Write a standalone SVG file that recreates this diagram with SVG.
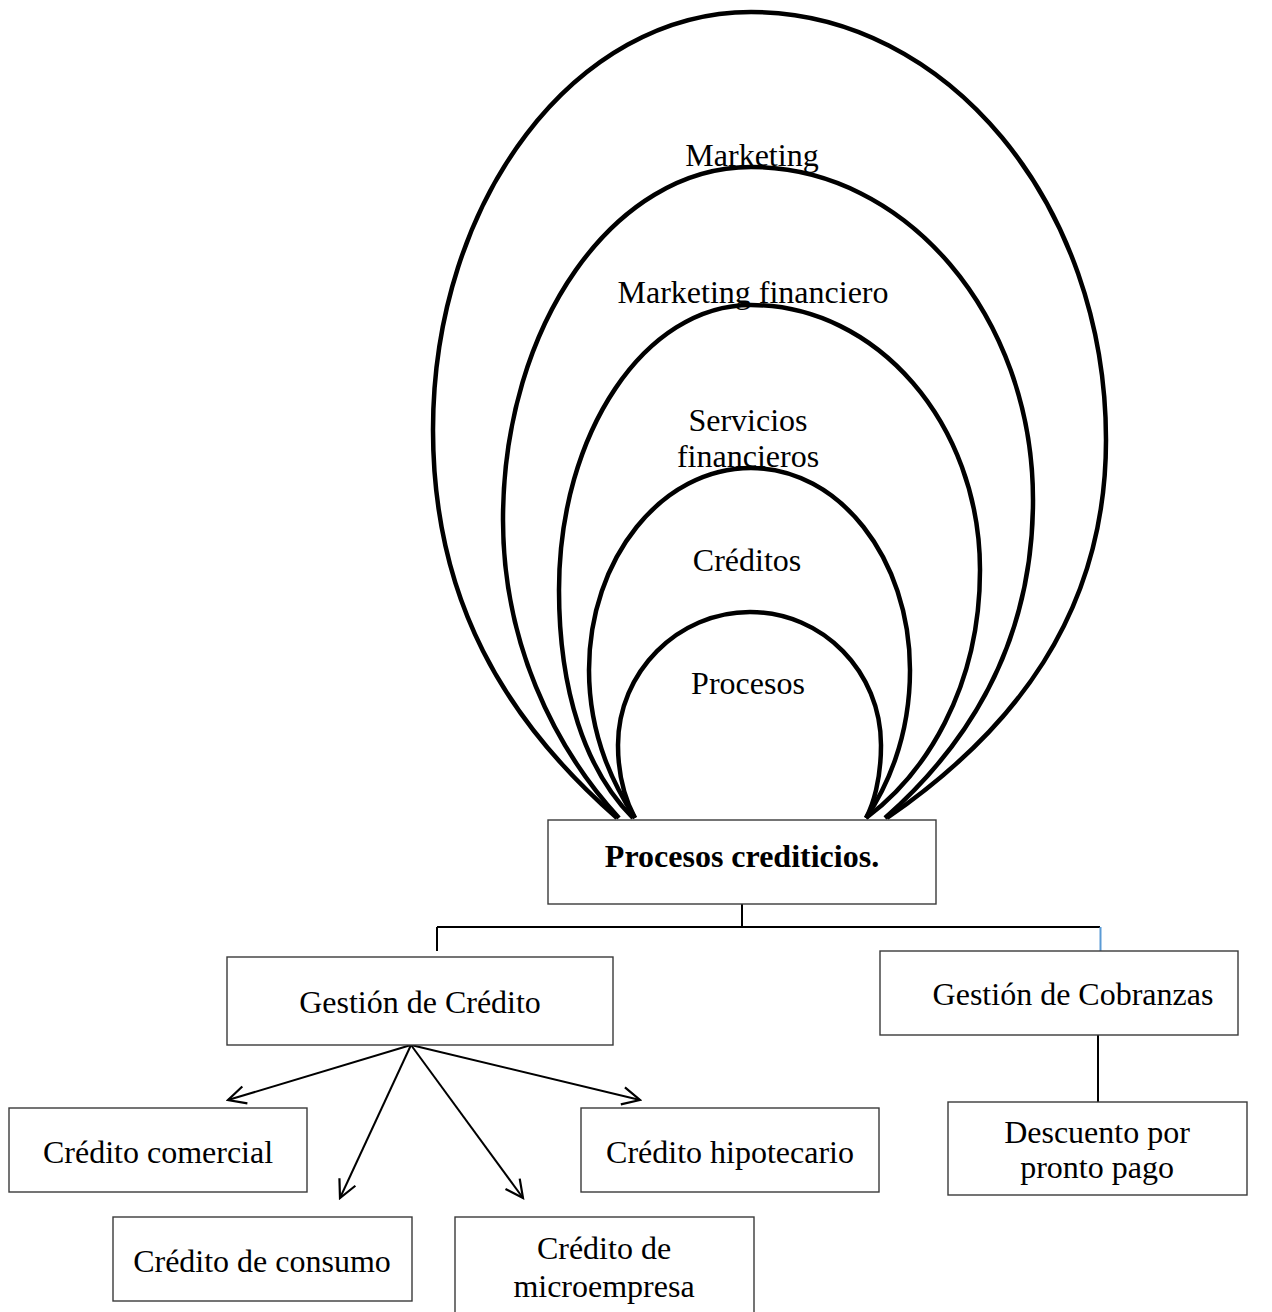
<svg xmlns="http://www.w3.org/2000/svg" width="1272" height="1312" viewBox="0 0 1272 1312">
  <style>
    .t { font-family: "Liberation Serif", "Times New Roman", serif; font-size: 32px; fill: #000; text-anchor: middle; }
    .b { font-weight: bold; }
    .arch { fill: none; stroke: #000; stroke-width: 4.5; }
    .box { fill: #fff; stroke: #3a3a3a; stroke-width: 1.4; }
    .ln { fill: none; stroke: #000; stroke-width: 2; }
  </style>
  <defs>
    <marker id="open" viewBox="0 0 20 20" refX="18" refY="10" markerWidth="22" markerHeight="22" markerUnits="userSpaceOnUse" orient="auto">
      <path d="M2 2 L18 10 L2 18" fill="none" stroke="#000" stroke-width="2"/>
    </marker>
  </defs>
  <rect width="1272" height="1312" fill="#fff"/>

  <!-- nested arches labels -->
  <g id="labels">
    <text class="t" x="752" y="166">Marketing</text>
    <text class="t" x="753" y="303">Marketing financiero</text>
    <text class="t" x="748" y="431">Servicios</text>
    <text class="t" x="748" y="467">financieros</text>
    <text class="t" x="747" y="571">Créditos</text>
    <text class="t" x="748" y="694">Procesos</text>
  </g>

  <!-- nested arches, outermost first -->
  <g id="arches">
    <path id="arch-marketing" class="arch" d="M617 818 C505 720 433 600 433 430 C433 199 576 12 751 12 C947 12 1106 204 1106 440 C1106 615 1012 732 887 818"/>
    <path id="arch-marketing-financiero" class="arch" d="M619 818 C552 745 503 640 503 520 C503 325 614 167 751 167 C906 167 1033 316 1033 500 C1033 650 962 750 885 818"/>
    <path id="arch-servicios" class="arch" d="M633 818 C585 770 559 690 559 590 C559 433 645 305 751 305 C877 305 980 424 980 570 C980 690 924 775 866 818"/>
    <path id="arch-creditos" class="arch" d="M635 818 C617 790 589 740 589 670 C589 558 662 468 751 468 C839 468 910 558 910 670 C910 740 885 790 866 818"/>
    <path id="arch-procesos" class="arch" d="M635 818 C628 805 618 780 618 745 C618 672 678 612 750 612 C823 612 881 672 881 745 C881 780 873 805 866 818"/>
  </g>

  <g id="connectors">
    <path class="ln" d="M742 904 V927 M437 927 H1100 M437 927 V951"/>
    <path d="M1100.5 927 V951" fill="none" stroke="#5b9bd5" stroke-width="2"/>
    <path class="ln" d="M1098 1035 V1102"/>
    <path class="ln" marker-end="url(#open)" d="M411 1045 L228 1100"/>
    <path class="ln" marker-end="url(#open)" d="M411 1045 L340 1198"/>
    <path class="ln" marker-end="url(#open)" d="M411 1045 L523 1198"/>
    <path class="ln" marker-end="url(#open)" d="M411 1045 L640 1100"/>
  </g>

  <g id="procesos-crediticios">
    <rect class="box" x="548" y="820" width="388" height="84"/>
    <text class="t b" x="742" y="867">Procesos crediticios.</text>
  </g>
  <g id="gestion-credito">
    <rect class="box" x="227" y="957" width="386" height="88"/>
    <text class="t" x="420" y="1013">Gestión de Crédito</text>
  </g>
  <g id="gestion-cobranzas">
    <rect class="box" x="880" y="951" width="358" height="84"/>
    <text class="t" x="1073" y="1005">Gestión de Cobranzas</text>
  </g>
  <g id="descuento">
    <rect class="box" x="948" y="1102" width="299" height="93"/>
    <text class="t" x="1097" y="1143">Descuento por</text>
    <text class="t" x="1097" y="1178">pronto pago</text>
  </g>
  <g id="credito-comercial">
    <rect class="box" x="9" y="1108" width="298" height="84"/>
    <text class="t" x="158" y="1163">Crédito comercial</text>
  </g>
  <g id="credito-hipotecario">
    <rect class="box" x="581" y="1108" width="298" height="84"/>
    <text class="t" x="730" y="1163">Crédito hipotecario</text>
  </g>
  <g id="credito-consumo">
    <rect class="box" x="113" y="1217" width="299" height="84"/>
    <text class="t" x="262" y="1272">Crédito de consumo</text>
  </g>
  <g id="credito-microempresa">
    <rect class="box" x="455" y="1217" width="299" height="110"/>
    <text class="t" x="604" y="1259">Crédito de</text>
    <text class="t" x="604" y="1297">microempresa</text>
  </g>
</svg>
